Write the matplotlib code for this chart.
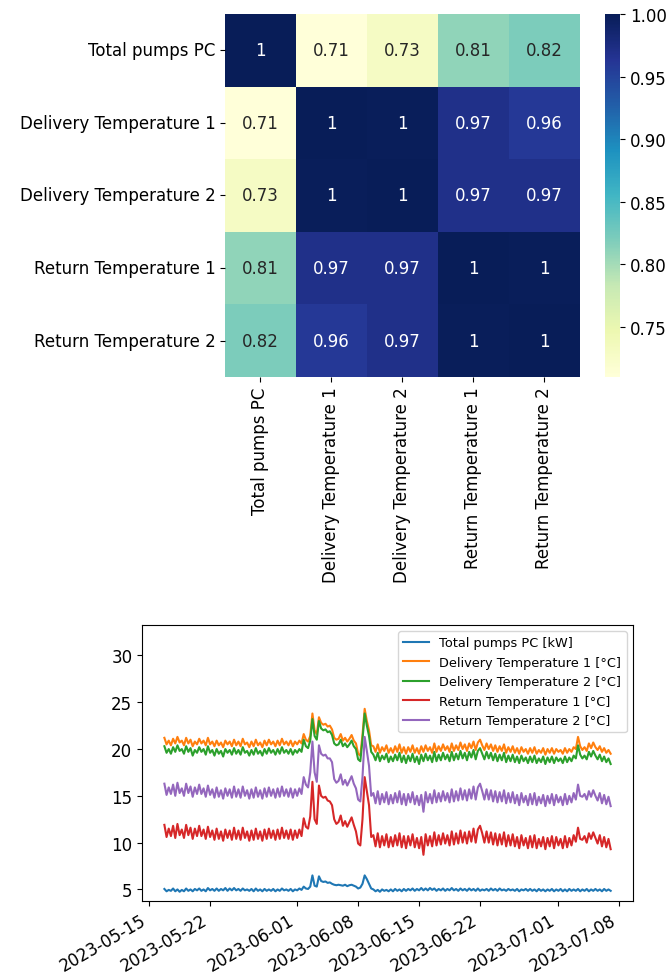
import matplotlib
matplotlib.use('Agg')
import matplotlib.pyplot as plt
import matplotlib.dates as mdates
import seaborn as sns
import pandas as pd

plt.rcParams['font.size'] = 12

# 相关系数矩阵（热力图）
labels = ['Total pumps PC', 'Delivery Temperature 1', 'Delivery Temperature 2',
          'Return Temperature 1', 'Return Temperature 2']
corr = [[1.00, 0.71, 0.73, 0.81, 0.82],
        [0.71, 1.00, 0.998, 0.97, 0.96],
        [0.73, 0.998, 1.00, 0.97, 0.97],
        [0.81, 0.97, 0.97, 1.00, 0.998],
        [0.82, 0.96, 0.97, 0.998, 1.00]]

# 时间序列（每6小时一个点，从图上读出）
start = '2023-05-16 18:00'
pumps = [5.05, 4.8, 4.95, 4.85, 5.1, 4.8, 5.0, 4.75,
         4.95, 4.8, 5.1, 4.85, 5.0, 4.8, 5.05, 4.9,
         5.1, 4.85, 5.0, 4.8, 5.15, 4.9, 5.05, 4.85,
         5.1, 4.85, 5.05, 4.9, 5.15, 4.85, 5.1, 4.9,
         5.15, 4.9, 5.05, 4.85, 5.1, 4.9, 5.0, 4.85,
         5.05, 4.8, 5.1, 4.85, 5.0, 4.8, 5.05, 4.85,
         5.0, 4.85, 5.05, 4.8, 5.0, 4.85, 5.1, 4.9,
         5.0, 4.85, 5.05, 4.8, 5.0, 4.9, 5.1, 4.95,
         5.3, 5.1, 5.05, 5.3, 6.5, 5.4, 5.3, 6.4,
         5.9, 5.8, 5.85, 5.7, 5.75, 5.6, 5.5, 5.45,
         5.5, 5.45, 5.4, 5.5, 5.35, 5.45, 5.5, 5.4,
         5.3, 5.1, 5.2, 5.6, 6.5, 6.1, 5.6, 5.1,
         5.0, 4.8, 4.95, 4.75, 5.0, 4.85, 4.95, 4.8,
         5.0, 4.8, 5.05, 4.85, 5.0, 4.8, 5.05, 4.85,
         5.05, 4.9, 5.1, 4.85, 5.05, 4.9, 5.15, 4.9,
         5.1, 4.9, 5.15, 4.95, 5.1, 4.85, 5.05, 4.9,
         5.1, 4.85, 5.05, 4.9, 5.15, 4.9, 5.05, 4.85,
         5.1, 4.9, 5.05, 4.85, 5.1, 4.9, 5.05, 4.85,
         5.1, 4.85, 5.0, 4.9, 5.05, 4.85, 5.1, 4.9,
         5.05, 4.85, 5.1, 4.9, 5.0, 4.85, 5.05, 4.9,
         5.0, 4.85, 5.05, 4.8, 5.0, 4.9, 5.05, 4.85,
         5.05, 4.85, 5.0, 4.8, 5.05, 4.85, 5.0, 4.8,
         5.0, 4.85, 5.05, 4.8, 5.0, 4.85, 5.05, 4.8,
         5.0, 4.8, 5.05, 4.85, 5.0, 4.85, 5.05, 4.8,
         5.0, 4.85, 5.05, 4.8, 5.0, 4.85, 5.05, 4.85,
         5.0, 4.8, 5.05, 4.85, 5.0, 4.85]
delivery1 = [21.2, 20.5, 20.9, 20.4, 21.1, 20.6, 21.3, 20.7,
             20.9, 20.4, 21.2, 20.6, 21.0, 20.3, 20.8, 20.5,
             21.1, 20.6, 20.9, 20.4, 21.2, 20.5, 20.8, 20.3,
             20.9, 20.4, 20.7, 20.2, 20.9, 20.5, 20.8, 20.3,
             21.0, 20.4, 20.8, 20.3, 21.1, 20.5, 20.7, 20.2,
             20.8, 20.3, 21.0, 20.4, 20.7, 20.2, 20.9, 20.4,
             21.0, 20.5, 20.8, 20.3, 20.9, 20.4, 21.1, 20.5,
             20.8, 20.4, 20.9, 20.3, 20.8, 20.5, 20.9, 20.6,
             21.6, 21.0, 20.8, 21.4, 23.8, 22.0, 21.6, 23.4,
             22.8, 22.6, 22.7, 22.4, 22.5, 22.1, 21.2, 21.0,
             21.1, 21.6, 20.9, 21.2, 20.8, 21.1, 21.5, 20.9,
             20.6, 19.5, 19.3, 21.5, 24.3, 23.0, 22.0, 20.4,
             20.3, 19.7, 20.5, 19.6, 20.2, 19.8, 20.4, 19.6,
             20.1, 19.6, 20.3, 19.7, 20.5, 19.6, 20.2, 19.5,
             20.2, 19.7, 20.4, 19.6, 20.1, 19.5, 20.3, 19.7,
             20.4, 19.8, 20.2, 19.6, 20.6, 19.7, 20.3, 19.8,
             20.5, 19.9, 20.3, 19.7, 20.6, 19.8, 20.4, 19.9,
             20.7, 20.0, 20.5, 19.8, 20.6, 20.1, 20.8, 19.9,
             20.7, 21.0, 20.4, 19.9, 20.6, 20.0, 20.5, 19.8,
             20.4, 19.7, 20.3, 19.8, 20.5, 19.6, 20.2, 19.7,
             20.3, 19.6, 20.1, 19.5, 20.2, 19.7, 20.0, 19.5,
             20.1, 19.6, 20.2, 19.5, 19.9, 19.6, 20.1, 19.4,
             20.0, 19.6, 20.1, 19.5, 20.0, 19.7, 19.9, 19.5,
             20.1, 19.6, 20.0, 19.7, 20.2, 20.0, 21.3, 20.3,
             19.9, 20.2, 19.8, 20.6, 20.1, 20.7, 20.2, 19.9,
             20.3, 19.7, 20.1, 19.6, 19.9, 19.5]
delivery2 = [20.3, 19.6, 20.0, 19.5, 20.2, 19.7, 20.4, 19.8,
             20.0, 19.5, 20.3, 19.7, 20.1, 19.3, 19.9, 19.6,
             20.2, 19.7, 20.0, 19.4, 20.3, 19.6, 19.9, 19.3,
             20.0, 19.5, 19.8, 19.2, 20.0, 19.6, 19.9, 19.4,
             20.1, 19.5, 19.9, 19.4, 20.2, 19.6, 19.8, 19.3,
             19.9, 19.4, 20.1, 19.5, 19.8, 19.3, 20.0, 19.5,
             20.1, 19.6, 19.9, 19.4, 20.0, 19.5, 20.2, 19.6,
             19.9, 19.5, 20.0, 19.4, 19.9, 19.6, 20.0, 19.7,
             21.0, 20.3, 20.1, 20.9, 23.2, 21.4, 21.0, 23.0,
             22.2, 22.0, 22.1, 21.8, 21.9, 21.5, 20.6, 20.4,
             20.5, 21.0, 20.3, 20.6, 20.2, 20.5, 20.9, 20.3,
             20.0, 18.9, 18.7, 21.0, 23.8, 22.5, 21.4, 19.7,
             19.4, 18.8, 19.6, 18.7, 19.3, 18.9, 19.5, 18.6,
             19.2, 18.7, 19.4, 18.8, 19.6, 18.6, 19.3, 18.5,
             19.3, 18.7, 19.5, 18.6, 19.2, 18.4, 19.4, 18.7,
             19.5, 18.8, 19.3, 18.6, 19.7, 18.7, 19.4, 18.8,
             19.6, 18.9, 19.4, 18.7, 19.7, 18.8, 19.5, 18.9,
             19.8, 19.0, 19.6, 18.8, 19.7, 19.1, 19.9, 18.9,
             19.8, 20.1, 19.5, 18.9, 19.7, 19.0, 19.6, 18.8,
             19.5, 18.7, 19.4, 18.8, 19.6, 18.6, 19.3, 18.7,
             19.4, 18.6, 19.2, 18.5, 19.3, 18.7, 19.1, 18.5,
             19.2, 18.6, 19.3, 18.5, 19.0, 18.6, 19.2, 18.4,
             19.1, 18.6, 19.2, 18.5, 19.1, 18.7, 19.0, 18.5,
             19.2, 18.6, 19.1, 18.7, 19.3, 19.0, 20.4, 19.4,
             19.0, 19.3, 18.9, 19.7, 19.2, 19.8, 19.3, 18.9,
             19.4, 18.7, 19.2, 18.6, 19.0, 18.4]
return1 = [11.9, 10.6, 11.5, 10.7, 11.8, 10.5, 12.0, 10.8,
           11.4, 10.5, 11.9, 10.8, 11.6, 10.4, 11.5, 10.7,
           11.8, 10.7, 11.4, 10.4, 11.7, 10.6, 11.3, 10.3,
           11.5, 10.4, 11.2, 10.2, 11.4, 10.5, 11.3, 10.3,
           11.6, 10.4, 11.3, 10.3, 11.6, 10.5, 11.2, 10.2,
           11.3, 10.3, 11.5, 10.4, 11.2, 10.2, 11.4, 10.4,
           11.5, 10.5, 11.3, 10.3, 11.4, 10.4, 11.6, 10.5,
           11.3, 10.4, 11.4, 10.3, 11.3, 10.5, 11.4, 10.7,
           12.6, 11.7, 11.5, 12.8, 16.5, 12.5, 12.0, 16.1,
           15.0, 14.8, 14.9, 14.5, 14.4, 14.0, 12.5, 12.0,
           12.2, 12.9, 11.8, 12.3, 11.7, 12.2, 12.7, 11.9,
           11.2, 9.9, 9.7, 12.5, 17.0, 15.5, 14.0, 10.6,
           10.8, 9.6, 11.0, 9.5, 10.7, 9.7, 10.9, 9.5,
           10.6, 9.6, 10.8, 9.7, 11.0, 9.5, 10.7, 9.4,
           10.7, 9.7, 10.9, 9.5, 10.5, 9.4, 10.6, 8.7,
           10.9, 9.7, 10.7, 9.6, 11.1, 9.7, 10.8, 9.8,
           11.0, 9.9, 10.8, 9.7, 11.2, 9.8, 11.0, 9.9,
           11.3, 10.0, 11.1, 9.9, 11.2, 10.1, 11.5, 10.0,
           11.4, 11.8, 11.0, 10.0, 11.2, 10.0, 11.1, 9.8,
           11.0, 9.7, 10.9, 9.8, 11.1, 9.6, 10.8, 9.7,
           10.9, 9.6, 10.6, 9.4, 10.8, 9.7, 10.5, 9.4,
           10.7, 9.5, 10.8, 9.4, 10.4, 9.6, 10.6, 9.3,
           10.5, 9.6, 10.7, 9.4, 10.6, 9.7, 10.4, 9.4,
           10.7, 9.5, 10.5, 9.7, 10.8, 10.1, 11.6, 10.4,
           10.3, 10.7, 10.0, 11.0, 10.4, 11.1, 10.5, 9.9,
           10.8, 9.6, 10.6, 9.5, 10.4, 9.3]
return2 = [16.3, 15.1, 15.9, 15.2, 16.2, 15.0, 16.4, 15.3,
           15.8, 15.0, 16.3, 15.3, 16.0, 14.9, 15.9, 15.2,
           16.2, 15.2, 15.8, 14.9, 16.1, 15.1, 15.7, 14.8,
           15.9, 14.9, 15.6, 14.7, 15.8, 15.0, 15.7, 14.8,
           16.0, 14.9, 15.7, 14.8, 16.0, 15.0, 15.6, 14.7,
           15.7, 14.8, 15.9, 14.9, 15.6, 14.7, 15.8, 14.9,
           15.9, 15.0, 15.7, 14.8, 15.8, 14.9, 16.0, 15.0,
           15.7, 14.9, 15.8, 14.8, 15.7, 15.0, 15.8, 15.2,
           17.0, 16.2, 15.9, 17.5, 20.8, 17.5, 16.5, 20.4,
           19.5, 19.3, 19.4, 19.0, 19.0, 18.6, 16.8, 16.4,
           16.6, 17.3, 16.2, 16.7, 16.1, 16.6, 17.1, 16.3,
           15.8, 14.6, 14.4, 17.0, 21.3, 19.8, 18.2, 15.0,
           15.3, 14.2, 15.5, 14.1, 15.2, 14.3, 15.4, 14.1,
           15.1, 14.2, 15.3, 14.3, 15.5, 14.1, 15.2, 14.0,
           15.2, 14.3, 15.4, 14.1, 15.0, 14.0, 15.1, 13.3,
           15.4, 14.3, 15.2, 14.2, 15.6, 14.3, 15.3, 14.4,
           15.5, 14.5, 15.3, 14.3, 15.7, 14.4, 15.5, 14.5,
           15.8, 14.6, 15.6, 14.5, 15.7, 14.7, 16.0, 14.6,
           15.9, 16.3, 15.5, 14.6, 15.7, 14.6, 15.6, 14.4,
           15.5, 14.3, 15.4, 14.4, 15.6, 14.2, 15.3, 14.3,
           15.4, 14.2, 15.1, 14.0, 15.3, 14.3, 15.0, 14.0,
           15.2, 14.1, 15.3, 14.0, 14.9, 14.2, 15.1, 13.9,
           15.0, 14.2, 15.2, 14.0, 15.1, 14.3, 14.9, 14.0,
           15.2, 14.1, 15.0, 14.3, 15.3, 14.6, 16.2, 15.0,
           14.9, 15.2, 14.6, 15.5, 14.9, 15.6, 15.0, 14.5,
           15.3, 14.2, 15.1, 14.1, 14.9, 13.9]

series_labels = ['Total pumps PC [kW]', 'Delivery Temperature 1 [°C]',
                 'Delivery Temperature 2 [°C]', 'Return Temperature 1 [°C]',
                 'Return Temperature 2 [°C]']

times = pd.date_range(start, periods=len(pumps), freq='6h')
df = pd.DataFrame({series_labels[0]: pumps, series_labels[1]: delivery1,
                   series_labels[2]: delivery2, series_labels[3]: return1,
                   series_labels[4]: return2}, index=times)

fig = plt.figure(figsize=(6.67, 9.79), dpi=100)

# 热力图
ax1 = fig.add_axes([0.3373, 0.6139, 0.532, 0.3708])
cax = fig.add_axes([0.907, 0.6139, 0.0225, 0.3708])
corr_df = pd.DataFrame(corr, index=labels, columns=labels)
sns.heatmap(corr_df, annot=True, cmap='YlGnBu', ax=ax1, cbar_ax=cax)
plt.setp(ax1.get_xticklabels(), rotation=90)
plt.setp(ax1.get_yticklabels(), rotation=0)

# 折线图
ax2 = fig.add_axes([0.213, 0.079, 0.736, 0.282])
for col in df.columns:
    ax2.plot(df.index, df[col], label=col, linewidth=1.5)
ax2.set_ylim(3.8, 33.3)
ax2.xaxis.set_major_locator(mdates.DayLocator(bymonthday=[1, 8, 15, 22]))
ax2.xaxis.set_major_formatter(mdates.DateFormatter('%Y-%m-%d'))
plt.setp(ax2.get_xticklabels(), rotation=30, ha='right')
ax2.legend(loc='upper right', fontsize=9.3)

plt.savefig('out.png', dpi=100)
